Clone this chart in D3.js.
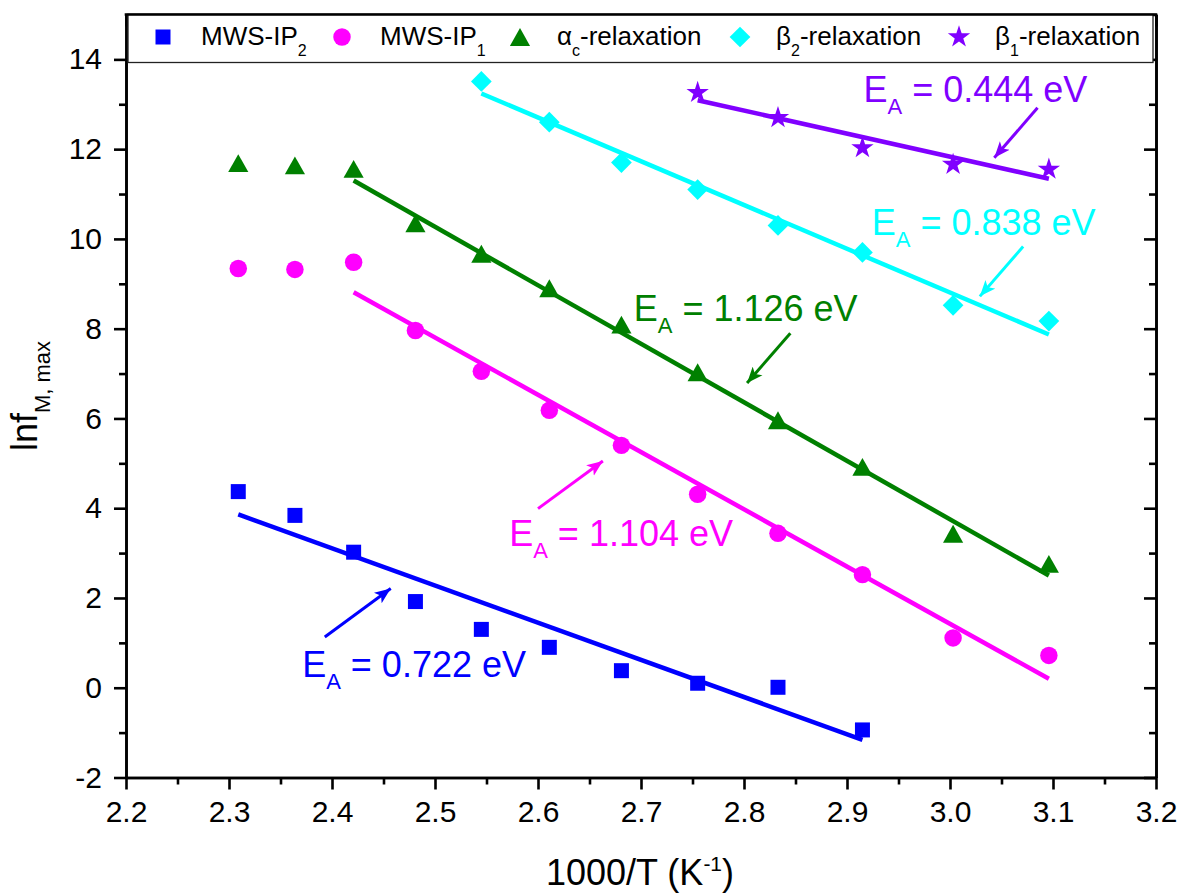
<!DOCTYPE html>
<html>
<head>
<meta charset="utf-8">
<script src="https://cdn.jsdelivr.net/npm/d3@7/dist/d3.min.js"></script>
<style>
    body { margin: 0; background: #fff; }
    svg { display: block; font-family: 'Liberation Sans', Arial, sans-serif; }
    text { white-space: pre; }
</style>
</head>
<body>
<div id="chart"></div>
<script>

// 1000/T (K^-1), shared by every series
var invT = [ 2.309, 2.364, 2.421, 2.481, 2.545, 2.611, 2.681, 2.755, 2.833, 2.915, 3.003, 3.096 ];

// ln f_M,max for each process
var mwsIp2 = [ 4.37, 3.84, 3.02, 1.92, 1.30, 0.90, 0.38, 0.10, 0.01, -0.94 ];
var mwsIp1 = [ 9.34, 9.32, 9.48, 7.96, 7.05, 6.18, 5.40, 4.31, 3.44, 2.52, 1.11, 0.72 ];
var alphaC = [ 11.69, 11.64, 11.56, 10.35, 9.67, 8.90, 8.09, 7.03, 5.96, 4.92, 3.43, 2.76 ];
var beta2  = [ 13.51, 12.60, 11.70, 11.10, 10.30, 9.70, 8.52, 8.17 ];
var beta1  = [ 13.26, 12.70, 12.03, 11.66, 11.55 ];

// index in invT where each series begins
var seriesStart = [ 0, 0, 0, 4, 7 ];

// Arrhenius fits (end points)
var fitX = [ [ 2.309, 2.915 ], [ 2.421, 3.096 ], [ 2.421, 3.096 ], [ 2.545, 3.096 ], [ 2.755, 3.096 ] ];
var fitY = [ [ 3.86, -1.16 ], [ 8.81, 0.20 ], [ 11.30, 2.50 ], [ 13.24, 7.87 ], [ 13.09, 11.34 ] ];

// activation energies + where their labels / arrows sit (data units)
var energies  = [ '0.722', '1.104', '1.126', '0.838', '0.444' ];
var labelAt   = [ [ 2.371, 0.24 ], [ 2.572, 3.15 ], [ 2.693, 8.18 ], [ 2.924, 10.08 ], [ 2.916, 13.05 ] ];
var arrowFrom = [ [ 2.393, 1.13 ], [ 2.600, 3.99 ], [ 2.845, 7.90 ], [ 3.071, 9.83 ], [ 3.085, 12.92 ] ];
var arrowTo   = [ [ 2.457, 2.21 ], [ 2.663, 5.05 ], [ 2.803, 6.79 ], [ 3.029, 8.72 ], [ 3.043, 11.81 ] ];

var legendMain = [ 'MWS-IP', 'MWS-IP', '\u03b1', '\u03b2', '\u03b2' ];
var legendSub  = [ '2', '1', 'c', '2', '1' ];
var legendTail = [ '', '', '-relaxation', '-relaxation', '-relaxation' ];

var xTicks = [ 2.2, 2.3, 2.4, 2.5, 2.6, 2.7, 2.8, 2.9, 3.0, 3.1, 3.2 ];
var yTicks = [ -2, 0, 2, 4, 6, 8, 10, 12, 14 ];

var colors = [ '#0000ff', '#ff00ff', '#008000', '#00ffff', '#8000ff' ];

// triangle centred on its bounding box (like Origin)
var triangle = {
    draw: function ( ctx, size ) {
        var a = Math.sqrt( size / 1.77 ), h = 1.77 * a;
        ctx.moveTo( 0, -h / 2 );
        ctx.lineTo( a, h / 2 );
        ctx.lineTo( -a, h / 2 );
        ctx.closePath();
    }
};

var symbols = [
    d3.symbol().type( d3.symbolSquare ).size( 225 ),
    d3.symbol().type( d3.symbolCircle ).size( 240 ),
    d3.symbol().type( triangle ).size( 180 ),
    d3.symbol().type( d3.symbolSquare ).size( 215 ),
    d3.symbol().type( d3.symbolStar ).size( 155 )
];
var symbolRotate = [ 0, 0, 0, 45, 0 ];

var allValues = [ mwsIp2, mwsIp1, alphaC, beta2, beta1 ];

var width = 1181,
    height = 895,
    plotLeft = 126,
    plotRight = 1156,
    plotTop = 14.5,
    plotBottom = 777.5;

var x = d3.scaleLinear().domain( [ 2.2, 3.2 ] ).range( [ plotLeft, plotRight ] );
var y = d3.scaleLinear().domain( [ -2, 15 ] ).range( [ plotBottom, plotTop ] );

var svg = d3.select( '#chart' ).append( 'svg' )
    .attr( 'width', width )
    .attr( 'height', height );

// axes

var xMinor = d3.range( 2.25, 3.2, 0.1 );
var yMinor = d3.range( -1, 15, 2 );

function styleAxis ( g ) {
    g.attr( 'font-size', null ).attr( 'font-family', null );
    g.selectAll( 'path, line' ).attr( 'stroke', '#000' ).attr( 'stroke-width', 2.6 );
    g.selectAll( 'text' ).attr( 'fill', '#000' ).style( 'font-size', '30px' );
}

svg.append( 'g' )
    .attr( 'transform', 'translate(0,' + plotBottom + ')' )
    .call( d3.axisBottom( x ).tickValues( xTicks ).tickFormat( d3.format( '.1f' ) ).tickSize( 12 ).tickSizeOuter( 0 ).tickPadding( 11 ) )
    .call( styleAxis );

svg.append( 'g' )
    .attr( 'transform', 'translate(0,' + plotBottom + ')' )
    .call( d3.axisBottom( x ).tickValues( xMinor ).tickFormat( '' ).tickSize( 7 ).tickSizeOuter( 0 ) )
    .call( styleAxis );

svg.append( 'g' )
    .attr( 'transform', 'translate(' + plotLeft + ',0)' )
    .call( d3.axisLeft( y ).tickValues( yTicks ).tickFormat( function ( d ) { return String( d ); } ).tickSize( 12 ).tickSizeOuter( 0 ).tickPadding( 12 ) )
    .call( styleAxis );

svg.append( 'g' )
    .attr( 'transform', 'translate(' + plotLeft + ',0)' )
    .call( d3.axisLeft( y ).tickValues( yMinor ).tickFormat( '' ).tickSize( 7 ).tickSizeOuter( 0 ) )
    .call( styleAxis );

// mirrored axes (ticks inward)
svg.append( 'g' )
    .attr( 'transform', 'translate(' + plotRight + ',0)' )
    .call( d3.axisLeft( y ).tickValues( yTicks ).tickFormat( '' ).tickSize( 12 ).tickSizeOuter( 0 ) )
    .call( styleAxis );

svg.append( 'g' )
    .attr( 'transform', 'translate(' + plotRight + ',0)' )
    .call( d3.axisLeft( y ).tickValues( yMinor ).tickFormat( '' ).tickSize( 7 ).tickSizeOuter( 0 ) )
    .call( styleAxis );

svg.append( 'g' )
    .attr( 'transform', 'translate(0,' + plotTop + ')' )
    .call( d3.axisBottom( x ).tickValues( xTicks ).tickFormat( '' ).tickSize( 12 ).tickSizeOuter( 0 ) )
    .call( styleAxis );

// axis titles

svg.append( 'text' )
    .attr( 'x', 640 )
    .attr( 'y', 885 )
    .attr( 'text-anchor', 'middle' )
    .style( 'font-size', '36px' )
    .call( function ( t ) {
        t.append( 'tspan' ).text( '1000/T (K' );
        t.append( 'tspan' ).attr( 'dy', -14 ).style( 'font-size', '21px' ).text( '-1' );
        t.append( 'tspan' ).attr( 'dy', 14 ).text( ')' );
    });

svg.append( 'text' )
    .attr( 'transform', 'translate(37,396) rotate(-90)' )
    .attr( 'text-anchor', 'middle' )
    .style( 'font-size', '36px' )
    .call( function ( t ) {
        t.append( 'tspan' ).text( 'lnf' );
        t.append( 'tspan' ).attr( 'dy', 13 ).style( 'font-size', '22px' ).text( 'M, max' );
    });

// fit lines

var fits = svg.append( 'g' );

fitX.forEach( function ( fx, i ) {
    fits.append( 'line' )
        .attr( 'x1', x( fx[0] ) )
        .attr( 'y1', y( fitY[i][0] ) )
        .attr( 'x2', x( fx[1] ) )
        .attr( 'y2', y( fitY[i][1] ) )
        .attr( 'stroke', colors[i] )
        .attr( 'stroke-width', 4.5 );
});

// points

allValues.forEach( function ( vals, i ) {
    svg.append( 'g' ).selectAll( 'path' )
        .data( vals )
        .enter().append( 'path' )
        .attr( 'd', symbols[i] )
        .attr( 'transform', function ( d, j ) {
            return 'translate(' + x( invT[ seriesStart[i] + j ] ) + ',' + y( d ) + ') rotate(' + symbolRotate[i] + ')';
        })
        .attr( 'fill', colors[i] );
});

// activation energy labels + arrows

var defs = svg.append( 'defs' );

colors.forEach( function ( c, i ) {
    defs.append( 'marker' )
        .attr( 'id', 'head' + i )
        .attr( 'markerUnits', 'userSpaceOnUse' )
        .attr( 'viewBox', '-16 -7 17 14' )
        .attr( 'markerWidth', 17 )
        .attr( 'markerHeight', 14 )
        .attr( 'refX', 0 )
        .attr( 'refY', 0 )
        .attr( 'orient', 'auto' )
        .append( 'path' )
        .attr( 'd', 'M0,0L-16,-6.5L-12,0L-16,6.5Z' )
        .attr( 'fill', c );
});

energies.forEach( function ( e, i ) {

    svg.append( 'line' )
        .attr( 'x1', x( arrowFrom[i][0] ) )
        .attr( 'y1', y( arrowFrom[i][1] ) )
        .attr( 'x2', x( arrowTo[i][0] ) )
        .attr( 'y2', y( arrowTo[i][1] ) )
        .attr( 'stroke', colors[i] )
        .attr( 'stroke-width', 3 )
        .attr( 'marker-end', 'url(#head' + i + ')' );

    var t = svg.append( 'text' )
        .attr( 'x', x( labelAt[i][0] ) )
        .attr( 'y', y( labelAt[i][1] ) )
        .attr( 'fill', colors[i] )
        .style( 'font-size', '36px' );

    t.append( 'tspan' ).text( 'E' );
    t.append( 'tspan' ).attr( 'dy', 12 ).style( 'font-size', '22px' ).text( 'A' );
    t.append( 'tspan' ).attr( 'dy', -12 ).text( ' = ' + e + ' eV' );

});

// legend

var legend = svg.append( 'g' );

legend.append( 'rect' )
    .attr( 'x', 128 )
    .attr( 'y', plotTop )
    .attr( 'width', 1025 )
    .attr( 'height', 48 )
    .attr( 'fill', '#fff' )
    .attr( 'stroke', '#222' )
    .attr( 'stroke-width', 1.3 );

svg.append( 'line' )
    .attr( 'x1', plotLeft - 1.3 )
    .attr( 'x2', plotRight + 1.3 )
    .attr( 'y1', plotTop )
    .attr( 'y2', plotTop )
    .attr( 'stroke', '#000' )
    .attr( 'stroke-width', 2.6 );

var legendSymX = [ 163, 342, 520, 740, 959 ];
var legendTextX = [ 201, 380, 557, 776, 995 ];

legendMain.forEach( function ( m, i ) {

    legend.append( 'path' )
        .attr( 'd', symbols[i] )
        .attr( 'transform', 'translate(' + legendSymX[i] + ',37) rotate(' + symbolRotate[i] + ')' )
        .attr( 'fill', colors[i] );

    var t = legend.append( 'text' )
        .attr( 'x', legendTextX[i] )
        .attr( 'y', 45 )
        .style( 'font-size', '26px' );

    t.append( 'tspan' ).text( m );
    t.append( 'tspan' ).attr( 'dy', 11 ).style( 'font-size', '16px' ).text( legendSub[i] );
    if ( legendTail[i] ) {
        t.append( 'tspan' ).attr( 'dy', -11 ).text( legendTail[i] );
    }

});

</script>
</body>
</html>
